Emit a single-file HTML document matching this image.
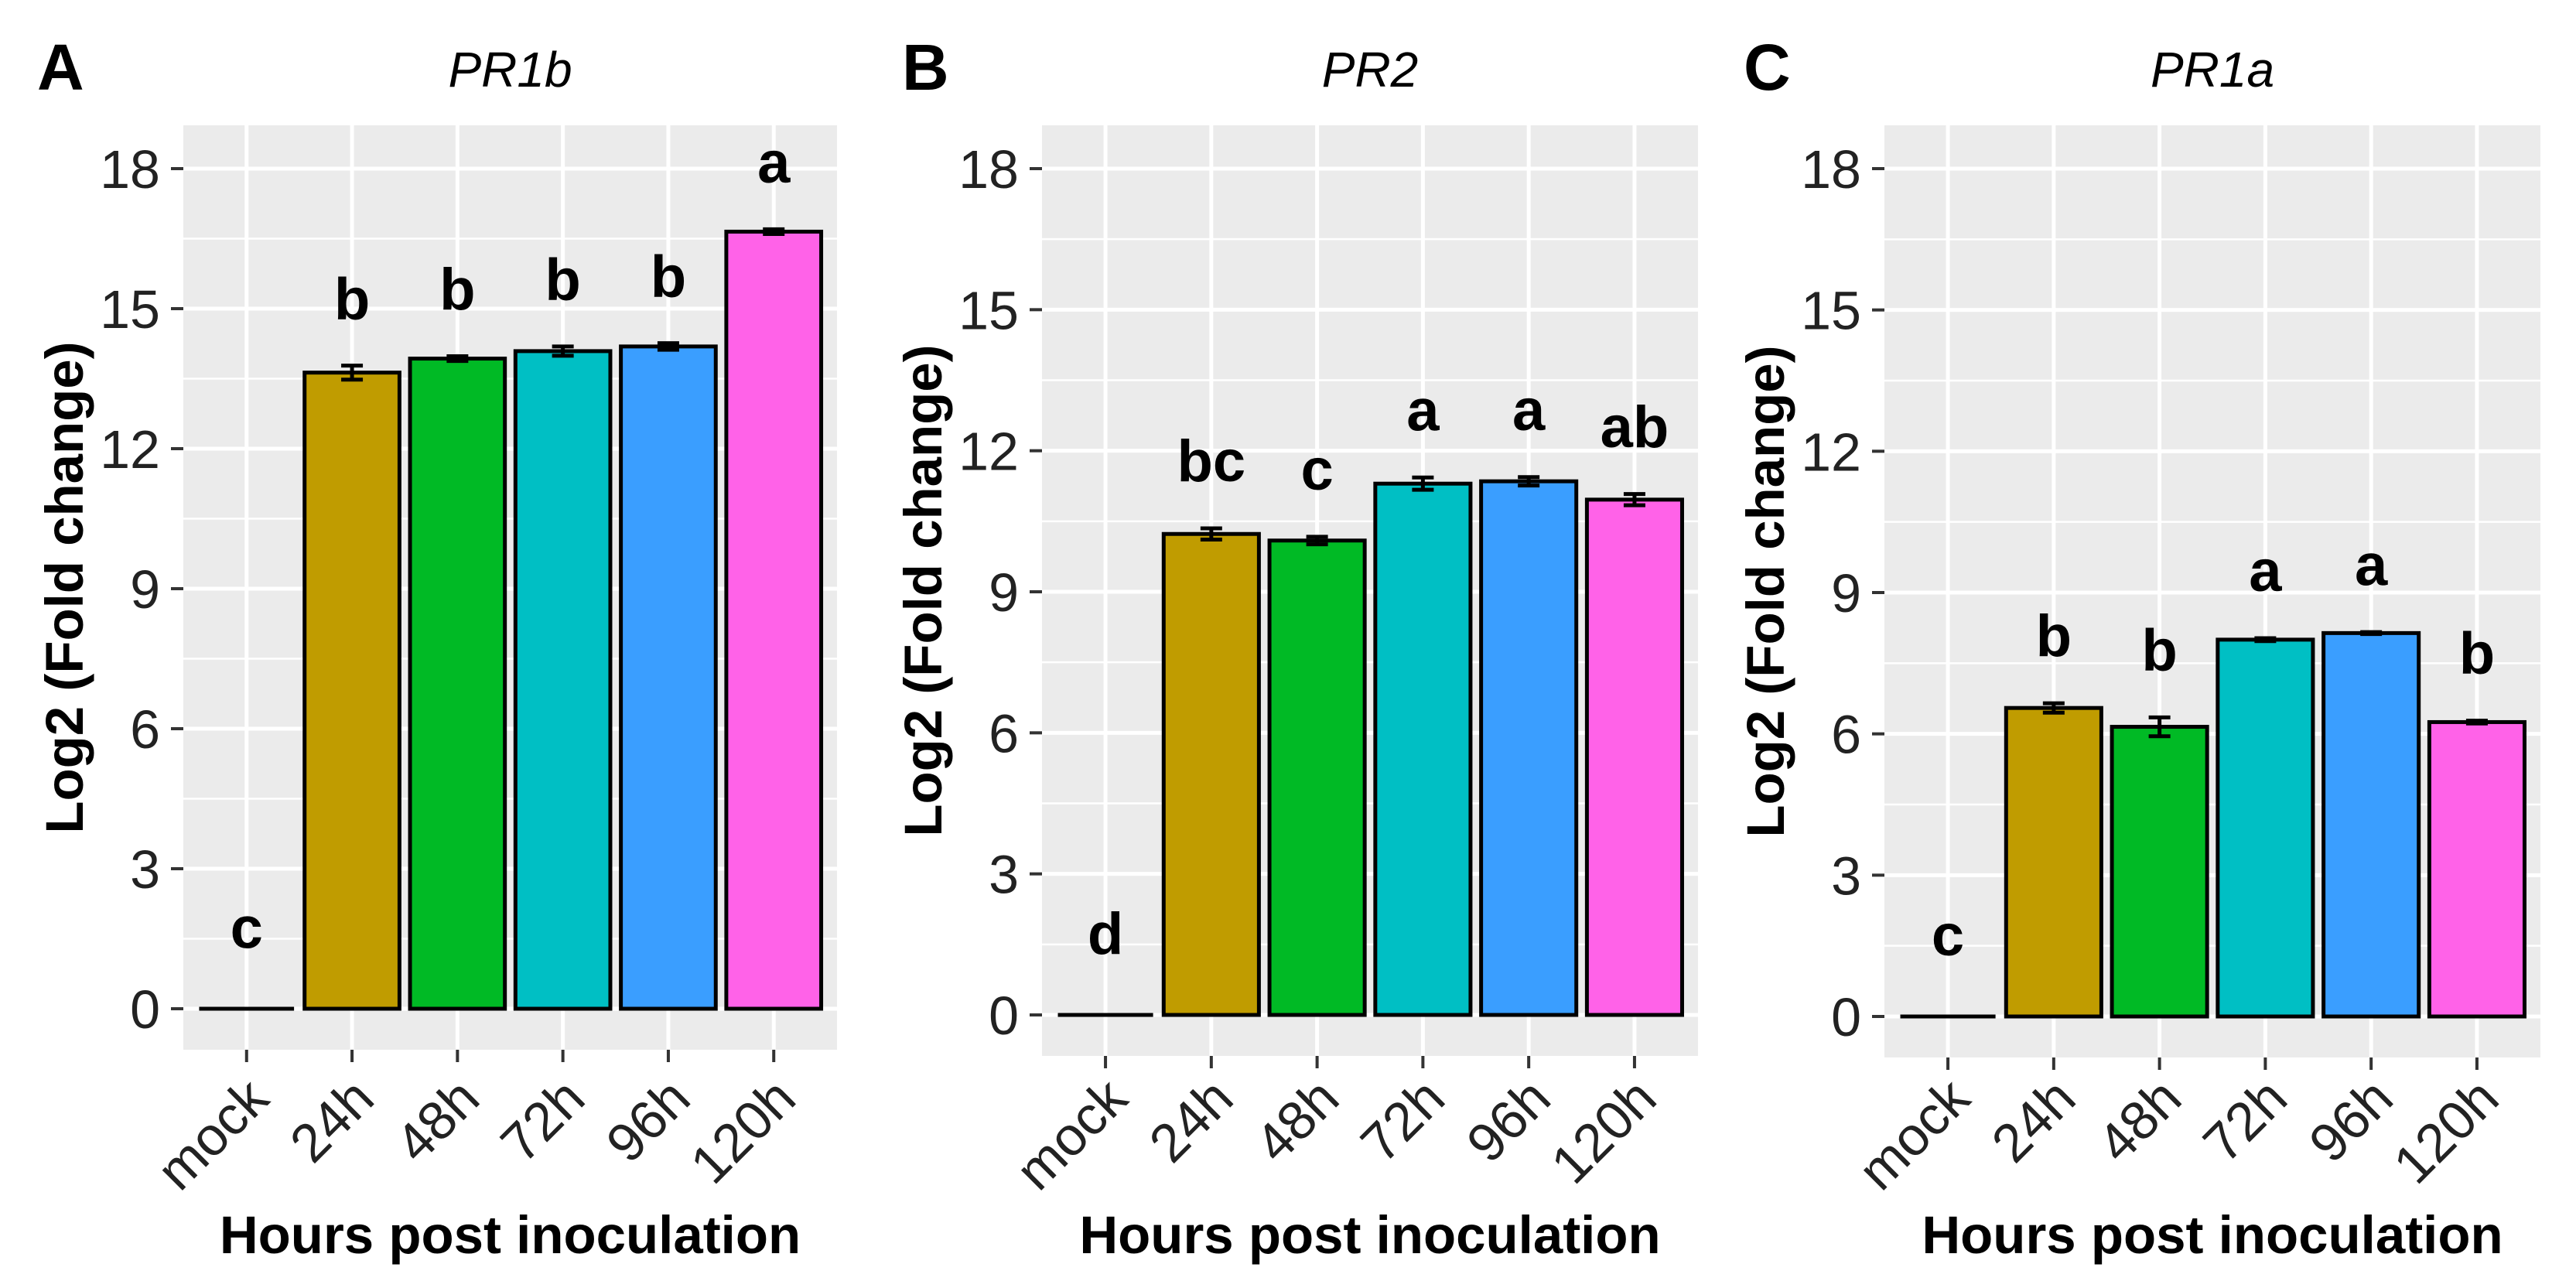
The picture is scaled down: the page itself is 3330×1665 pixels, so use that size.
<!DOCTYPE html>
<html><head><meta charset="utf-8"><style>
html,body{margin:0;padding:0;background:#fff;}
svg{display:block;font-family:"Liberation Sans",Arial,sans-serif;}
</style></head><body>
<svg id="fig" width="3330" height="1665" viewBox="0 0 3330 1665" xmlns="http://www.w3.org/2000/svg"></svg>
<script>
const categories = ["mock","24h","48h","72h","96h","120h"];
const yTicks = [0,3,6,9,12,15,18];
const pr1bValues = [0, 13.63, 13.93, 14.09, 14.19, 16.65];
const pr1bErrors = [0, 0.15, 0.05, 0.1, 0.07, 0.05];
const pr1bLetters = ["c","b","b","b","b","a"];
const pr2Values = [0, 10.23, 10.09, 11.3, 11.35, 10.96];
const pr2Errors = [0, 0.12, 0.08, 0.13, 0.09, 0.12];
const pr2Letters = ["d","bc","c","a","a","ab"];
const pr1aValues = [0, 6.55, 6.15, 8.0, 8.14, 6.25];
const pr1aErrors = [0, 0.1, 0.2, 0.03, 0.02, 0.03];
const pr1aLetters = ["c","b","b","a","a","b"];

const colors = ["#F8766D","#C09C00","#00BA25","#00BFC4","#3A9EFF","#FF62E8"];
const NS = "http://www.w3.org/2000/svg";
const svg = document.getElementById("fig");
function mk(tag, attrs, parent, text){
  const e = document.createElementNS(NS, tag);
  for (const k in attrs) e.setAttribute(k, attrs[k]);
  if (text !== undefined) e.textContent = text;
  (parent||svg).appendChild(e);
  return e;
}
const panels = [
  {key:"a", letter:"A", title:"PR1b", vals:pr1bValues, errs:pr1bErrors, labs:pr1bLetters, x0:237, x1:1082, y0px:1304, y18px:218, letterX:48},
  {key:"b", letter:"B", title:"PR2", vals:pr2Values, errs:pr2Errors, labs:pr2Letters, x0:1347, x1:2195, y0px:1312, y18px:218, letterX:1166},
  {key:"c", letter:"C", title:"PR1a", vals:pr1aValues, errs:pr1aErrors, labs:pr1aLetters, x0:2436, x1:3284, y0px:1314, y18px:218, letterX:2254}
];
panels.forEach(p => {
  const g = mk("g", {});
  
  
  const top = 162, bottom = p.y0px + 53;
  const unit = (p.x1 - p.x0) / 6.2;
  const xs = i => p.x0 + (0.6 + i) * unit;
  const ys = v => p.y0px - v * (p.y0px - p.y18px) / 18;
  const bg = mk("rect", {x:p.x0, y:top, width:p.x1-p.x0, height:bottom-top, fill:"#EBEBEB"}, g);
  
  
  for (let k = 0; k < yTicks.length; k++) {
    const mv = yTicks[k] + 1.5;
    if (ys(mv) > top) mk("line", {x1:p.x0, x2:p.x1, y1:ys(mv), y2:ys(mv), stroke:"#fff", "stroke-width":2.5}, g);
  }
  if (ys(-1.5) < bottom) mk("line", {x1:p.x0, x2:p.x1, y1:ys(-1.5), y2:ys(-1.5), stroke:"#fff", "stroke-width":2.5}, g);
  yTicks.forEach(t => {
    const gl = mk("line", {x1:p.x0, x2:p.x1, y1:ys(t), y2:ys(t), stroke:"#fff", "stroke-width":5}, g);
    
    
    mk("line", {x1:p.x0-16, x2:p.x0, y1:ys(t), y2:ys(t), stroke:"#333", "stroke-width":4}, g);
    const tl = mk("text", {x:p.x0-30, y:ys(t)+25, "text-anchor":"end", "font-size":70, fill:"#222"}, g, String(t));
    
    
  });
  categories.forEach((c, i) => {
    const cx = xs(i);
    mk("line", {x1:cx, x2:cx, y1:top, y2:bottom, stroke:"#fff", "stroke-width":5}, g);
    mk("line", {x1:cx, x2:cx, y1:bottom, y2:bottom+16, stroke:"#333", "stroke-width":4}, g);
    const xl = mk("text", {x:cx+32, y:1424, "text-anchor":"end", "font-size":70, fill:"#222", transform:`rotate(-45 ${cx+32} 1424)`}, g, c);
    
    
  });
  categories.forEach((c, i) => {
    const cx = xs(i), v = p.vals[i], e = p.errs[i];
    const bw = 0.9 * unit;
    const h = ys(0) - ys(v);
    if (h > 1) {
      const bar = mk("rect", {x:cx-bw/2, y:ys(v), width:bw, height:h, fill:colors[i], stroke:"#000", "stroke-width":5}, g);
      
      
    } else {
      const bar = mk("line", {x1:cx-bw/2, x2:cx+bw/2, y1:ys(v), y2:ys(v), stroke:"#000", "stroke-width":5}, g);
      
      
    }
    if (e > 0) {
      const eb = mk("path", {d:`M${cx-14},${ys(v+e)}H${cx+14}M${cx},${ys(v+e)}V${ys(v-e)}M${cx-14},${ys(v-e)}H${cx+14}`, stroke:"#000", "stroke-width":5, fill:"none"}, g);
      
      
    }
    const ly = Math.max(v + e + 1.0, 1.3);
    const sl = mk("text", {x:cx, y:ys(ly), "text-anchor":"middle", "font-size":76, "font-weight":"bold", fill:"#000"}, g, p.labs[i]);
    
    
  });
  const pcx = (p.x0 + p.x1) / 2;
  const t = mk("text", {x:pcx, y:112, "text-anchor":"middle", "font-size":64, "font-style":"italic", fill:"#000"}, g, p.title);
  
  
  const L = mk("text", {x:p.letterX, y:116, "font-size":84, "font-weight":"bold", fill:"#000"}, g, p.letter);
  
  
  const xt = mk("text", {x:pcx, y:1620, "text-anchor":"middle", "font-size":69, "font-weight":"bold", fill:"#000"}, g, "Hours post inoculation");
  
  
  const ycx = p.x0 - 130, ycy = (top + bottom) / 2;
  const yt = mk("text", {x:ycx, y:ycy, "text-anchor":"middle", "font-size":69, "font-weight":"bold", fill:"#000", transform:`rotate(-90 ${ycx} ${ycy})`}, g, "Log2 (Fold change)");
  
  
});
</script>
</body></html>
